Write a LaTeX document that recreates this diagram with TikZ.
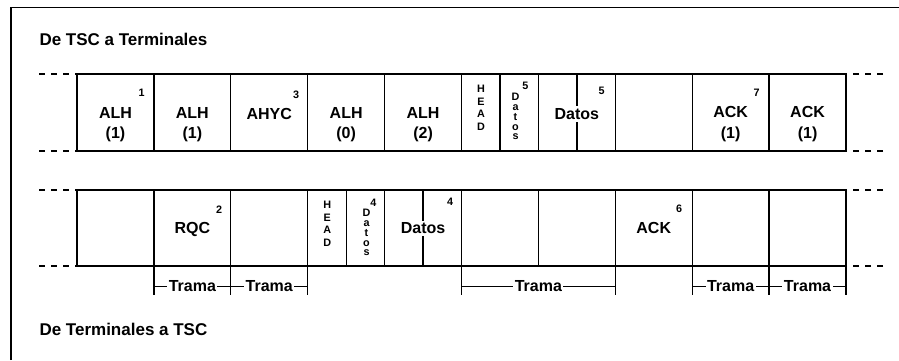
\documentclass[tikz,border=0pt]{standalone}
\usepackage{fontspec}
\setmainfont{Liberation Sans}
\begin{document}
\begin{tikzpicture}[x=1pt,y=-1pt,
  cell/.style={draw, line width=1.3pt, minimum width=76.9pt, anchor=north west, inner sep=0pt, outer sep=0pt},
  topcell/.style={cell, minimum height=77pt},
  botcell/.style={cell, minimum height=76pt},
  halfcell/.style={minimum width=38.45pt},
  lbl/.style={font=\fontsize{16}{19}\selectfont\bfseries, inner sep=0pt, anchor=base},
  sup/.style={font=\fontsize{10.8}{12}\selectfont\bfseries, inner sep=0pt, anchor=base},
  ttl/.style={font=\fontsize{17}{20}\selectfont\bfseries, inner sep=0pt, anchor=base west},
  thinln/.style={line width=1.3pt},
  extdash/.style={line width=1.3pt, dash pattern=on 6pt off 6pt},
  blank/.style={fill=white, inner sep=2pt}
]
\useasboundingbox (0,0) rectangle (899,360);

% outer frame
\draw[line width=1.3pt] (11,360) -- (11,7.3) -- (899,7.3);

% headings
\node[ttl] (h1) at (39.3,45.7) {De TSC a Terminales};
\node[ttl] (h2) at (39.3,335) {De Terminales a TSC};

% ---------- upper stream: TSC to terminals ----------
\node[topcell] (t1) at (77,74) {};
\node[topcell] (t2) at (153.9,74) {};
\node[topcell] (t3) at (230.8,74) {};
\node[topcell] (t4) at (307.7,74) {};
\node[topcell] (t5) at (384.6,74) {};
\node[topcell, halfcell] (t6a) at (461.5,74) {};
\node[topcell, halfcell] (t6b) at (499.95,74) {};
\node[topcell] (t7) at (538.4,74) {};
\node[topcell] (t8) at (615.3,74) {};
\node[topcell] (t9) at (692.2,74) {};
\node[topcell] (t10) at (769.1,74) {};
\draw[thinln] (t7.north) -- (t7.south);

\draw[extdash] (39,74) coordinate (tlu) -- (t1.north west);
\draw[extdash] (39,151) coordinate (tld) -- (t1.south west);
\draw[extdash] (883,74) coordinate (tru) -- (t10.north east);
\draw[extdash] (883,151) coordinate (trd) -- (t10.south east);

\node[lbl] (t1l) at (115.45,118) {ALH};
\node[lbl] (t1n) at (115.45,138.5) {(1)};
\node[sup] (t1s) at (141.7,96.7) {1};
\node[lbl] (t2l) at (192.35,118) {ALH};
\node[lbl] (t2n) at (192.35,138.5) {(1)};
\node[lbl] (t3l) at (269.25,119.5) {AHYC};
\node[sup] (t3s) at (296,98.3) {3};
\node[lbl] (t4l) at (346.15,118) {ALH};
\node[lbl] (t4n) at (346.15,138.5) {(0)};
\node[lbl] (t5l) at (423.05,118) {ALH};
\node[lbl] (t5n) at (423.05,138.5) {(2)};
\foreach \ch/\yy [count=\k] in {H/92.3,E/105,A/117.3,D/130}
  \node[sup] (th\k) at (481,\yy) {\ch};
\foreach \ch/\yy [count=\k] in {D/100,a/110.8,t/120.5,o/130,s/139.5}
  \node[sup] (td\k) at (515.5,\yy) {\ch};
\node[sup] (t6s) at (525.3,89) {5};
\node[lbl, blank] (t7l) at (576.85,119.5) {Datos};
\node[sup] (t7s) at (601.7,94.3) {5};
\node[lbl] (t9l) at (730.65,117.5) {ACK};
\node[lbl] (t9n) at (730.65,138.5) {(1)};
\node[sup] (t9s) at (756.7,96.7) {7};
\node[lbl] (t10l) at (807.55,117.5) {ACK};
\node[lbl] (t10n) at (807.55,138.5) {(1)};

% ---------- lower stream: terminals to TSC ----------
\node[botcell] (b1) at (77,190) {};
\node[botcell] (b2) at (153.9,190) {};
\node[botcell] (b3) at (230.8,190) {};
\node[botcell, halfcell] (b4a) at (307.7,190) {};
\node[botcell, halfcell] (b4b) at (346.15,190) {};
\node[botcell] (b5) at (384.6,190) {};
\node[botcell] (b6) at (461.5,190) {};
\node[botcell] (b7) at (538.4,190) {};
\node[botcell] (b8) at (615.3,190) {};
\node[botcell] (b9) at (692.2,190) {};
\node[botcell] (b10) at (769.1,190) {};
\draw[thinln] (b5.north) -- (b5.south);

\draw[extdash] (39,190) coordinate (blu) -- (b1.north west);
\draw[extdash] (39,266) coordinate (bld) -- (b1.south west);
\draw[extdash] (883,190) coordinate (bru) -- (b10.north east);
\draw[extdash] (883,266) coordinate (brd) -- (b10.south east);

\node[lbl] (b2l) at (192.35,233.5) {RQC};
\node[sup] (b2s) at (219,213.3) {2};
\foreach \ch/\yy [count=\k] in {H/208.3,E/221,A/233.3,D/246}
  \node[sup] (bh\k) at (327.3,\yy) {\ch};
\foreach \ch/\yy [count=\k] in {D/216,a/226.8,t/236.5,o/246,s/255.5}
  \node[sup] (bd\k) at (366.5,\yy) {\ch};
\node[sup] (b4s) at (373.3,206) {4};
\node[lbl, blank] (b5l) at (423.05,233.5) {Datos};
\node[sup] (b5s) at (450,205) {4};
\node[lbl] (b8l) at (653.75,233.5) {ACK};
\node[sup] (b8s) at (679,212.7) {6};

% frame extents below the lower stream
\foreach \a/\b/\n in {153.9/230.8/1, 230.8/307.7/2, 461.5/615.3/3, 692.2/769.1/4, 769.1/846/5} {
  \coordinate (fa\n) at (\a,295);
  \coordinate (fb\n) at (\b,295);
  \draw[thinln] (\a,266) -- (fa\n);
  \draw[thinln] (\b,266) -- (fb\n);
  \draw[thinln] (\a,286.7) -- (\b,286.7);
  \node[lbl, fill=white, inner sep=1.5pt] (fr\n) at ({(\a+\b)/2},291.7) {Trama};
}
\end{tikzpicture}
\end{document}
